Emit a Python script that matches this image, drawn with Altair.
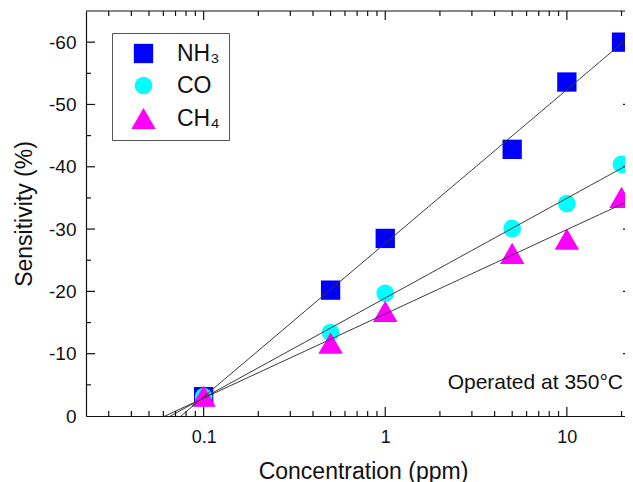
import altair as alt
import pandas as pd

# ---- data ----
conc = [0.1, 0.5, 1, 5, 10, 20]
nh3 = [-3.1, -20.2, -28.5, -42.8, -53.6, -60.0]
co = [-3.1, -13.4, -19.7, -30.1, -34.1, -40.4]
ch4 = [-3.2, -11.7, -16.8, -26.1, -28.4, -35.1]
gases = ["NH₃", "CO", "CH₄"]
colors = ["#0000FF", "#00FFFF", "#FF00FF"]
shapes = ["square", "circle", "triangle-up"]
sizes = [373, 314, 600]

x_major = [0.1, 1, 10]
x_minor = [0.03, 0.04, 0.05, 0.06, 0.07, 0.08, 0.09,
           0.2, 0.3, 0.4, 0.5, 0.6, 0.7, 0.8, 0.9,
           2, 3, 4, 5, 6, 7, 8, 9, 20]
y_major = [0, -10, -20, -30, -40, -50, -60]
y_minor = [-5, -15, -25, -35, -45, -55]
annotation = ["Operated at 350°C"]

W, H = 539, 405
FONT = "Liberation Sans"
INK = "#111111"

rows = []
for g, vals in zip(gases, [nh3, co, ch4]):
    for c, v in zip(conc, vals):
        rows.append({"gas": g, "conc": c, "sens": v})
df = pd.DataFrame(rows)

xs = alt.Scale(type="log", domain=[0.0225, 20.9])
ys = alt.Scale(domain=[0, -65])

x_axis = alt.Axis(values=x_major, labelExpr="'' + datum.value", ticks=False,
                  grid=False, domainColor=INK, domainWidth=1.2, labelFontSize=18,
                  labelColor=INK, labelPadding=12, labelFlush=False,
                  title="Concentration (ppm)", titleFontSize=23, titleFontWeight="normal",
                  titleColor=INK, titleX=277, titleY=62, titleBaseline="alphabetic",
                  titleAlign="center")
y_axis = alt.Axis(values=y_major, labelExpr="'' + datum.value", ticks=False,
                  grid=False, domainColor=INK, domainWidth=1.2, labelFontSize=19,
                  labelColor=INK, labelPadding=10,
                  title="Sensitivity (%)", titleFontSize=23, titleFontWeight="normal",
                  titleColor=INK, titleX=-55, titleY=202.5, titleAngle=270,
                  titleBaseline="alphabetic", titleAlign="center")

legend = alt.Legend(title=None, orient="none", legendX=26, legendY=22, fillColor="white",
                    strokeColor="#555555", padding=9, symbolOffset=10,
                    labelFontSize=23, labelFont=FONT,
                    labelColor=INK, labelOffset=21, rowPadding=8, symbolStrokeWidth=0,
                    symbolOpacity=1)

X = lambda f: alt.X(f, scale=xs, axis=x_axis)
Y = lambda f: alt.Y(f, scale=ys, axis=y_axis)

points = alt.Chart(df).mark_point(filled=True, opacity=1, strokeWidth=0).encode(
    x=X("conc:Q"),
    y=Y("sens:Q"),
    color=alt.Color("gas:N", scale=alt.Scale(domain=gases, range=colors), legend=legend),
    shape=alt.Shape("gas:N", scale=alt.Scale(domain=gases, range=shapes), legend=legend),
    size=alt.Size("gas:N", scale=alt.Scale(type="ordinal", domain=gases, range=sizes),
                  legend=legend),
)

fits = alt.Chart(df).transform_regression(
    "conc", "sens", groupby=["gas"], method="log", extent=[0.05, 21]
).mark_line(color="#3a3a3a", strokeWidth=1, clip=True).encode(
    x=X("conc:Q"),
    y=Y("sens:Q"),
    detail="gas:N",
)

xmaj = pd.DataFrame({"conc": x_major})
xmin = pd.DataFrame({"conc": x_minor})
ymaj = pd.DataFrame({"sens": y_major[1:]})
ymin = pd.DataFrame({"sens": y_minor})

def xticks(d, length, top):
    y0 = 0 if top else H
    y1 = length if top else H - length
    return alt.Chart(d).mark_rule(color=INK, strokeWidth=1.2).encode(
        x=X("conc:Q"), y=alt.value(y0), y2=alt.value(y1))

def yticks(d, x0, x1):
    return alt.Chart(d).mark_rule(color=INK, strokeWidth=1.2).encode(
        y=Y("sens:Q"), x=alt.value(x0), x2=alt.value(x1))

one = pd.DataFrame({"label": annotation})
top_line = alt.Chart(one).mark_rule(color=INK, strokeWidth=1.2).encode(
    x=alt.value(0), x2=alt.value(W), y=alt.value(0))
note = alt.Chart(one).mark_text(align="right", baseline="alphabetic", fontSize=21,
                                font=FONT, color=INK).encode(
    text="label:N", x=alt.value(537), y=alt.value(378))

chart = alt.layer(
    points, fits,
    xticks(xmaj, 9, False), xticks(xmin, 5, False),
    xticks(xmaj, 9, True), xticks(xmin, 5, True),
    yticks(ymaj, 0, 9), yticks(ymin, 0, 5), yticks(ymaj, W - 2, W),
    top_line, note,
).properties(
    width=W, height=H,
    autosize=alt.AutoSizeParams(type="none"),
    padding={"left": 78, "top": 3, "right": 0, "bottom": 66},
).configure(font=FONT).configure_view(stroke=None)

chart.save("out.html", embed_options={"renderer": "svg", "actions": False})
